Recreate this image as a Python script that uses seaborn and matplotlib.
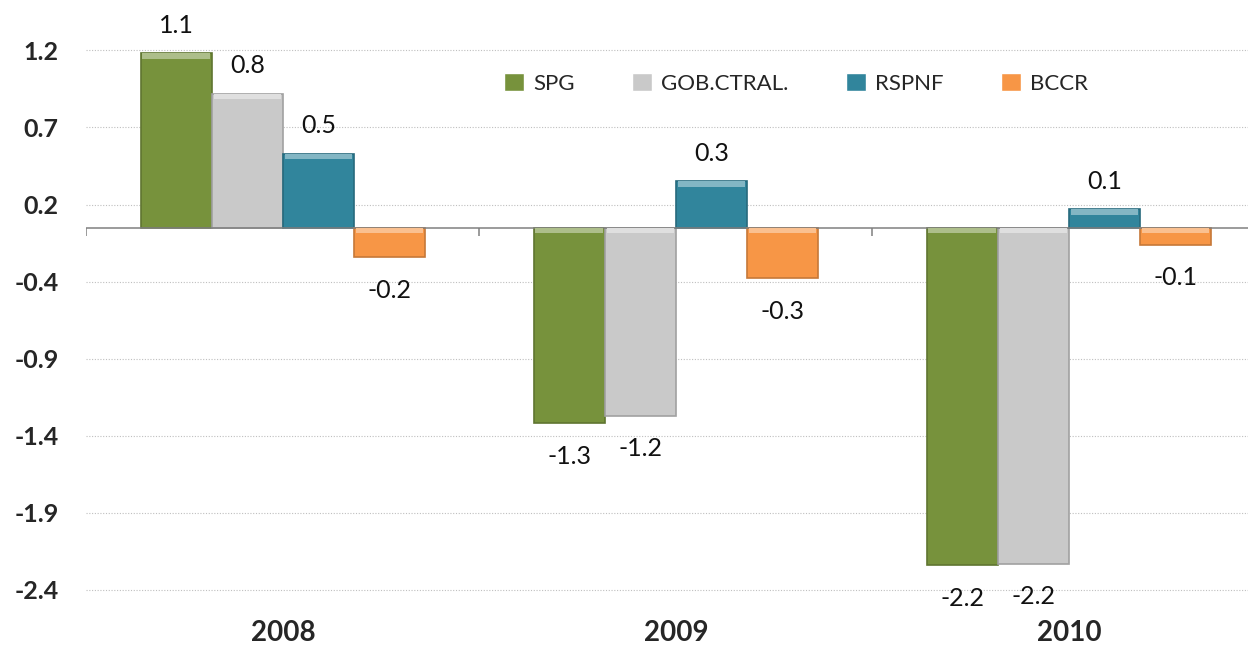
import numpy as np
import pandas as pd
import matplotlib.pyplot as plt
import matplotlib.colors as mcolors
from matplotlib.patches import Rectangle
import seaborn as sns

# data
years = ['2008', '2009', '2010']
series = ['SPG', 'GOB.CTRAL.', 'RSPNF', 'BCCR']
spg = [1.13, -1.27, -2.19]
gob = [0.87, -1.22, -2.18]
rspnf = [0.48, 0.30, 0.12]
bccr = [-0.19, -0.33, -0.11]
labels_spg = ['1.1', '-1.3', '-2.2']
labels_gob = ['0.8', '-1.2', '-2.2']
labels_rspnf = ['0.5', '0.3', '0.1']
labels_bccr = ['-0.2', '-0.3', '-0.1']
yticks = [1.15, 0.65, 0.15, -0.35, -0.85, -1.35, -1.85, -2.35]
ytick_labels = ['1.2', '0.7', '0.2', '-0.4', '-0.9', '-1.4', '-1.9', '-2.4']

colors = ['#77923C', '#C9C9C9', '#31859C', '#F79646']

df = pd.DataFrame({
    'year': years * 4,
    'serie': np.repeat(series, 3),
    'value': spg + gob + rspnf + bccr,
    'label': labels_spg + labels_gob + labels_rspnf + labels_bccr,
})

sns.set_style('white')
plt.rcParams['font.family'] = ['Lato', 'DejaVu Sans']

fig = plt.figure(figsize=(12.48, 6.56), dpi=100)
ax = fig.add_axes([0.0693, 0.068, 0.9447, 0.932])

sns.barplot(data=df, x='year', y='value', hue='serie', palette=colors,
            width=0.725, gap=0, saturation=1, ax=ax, legend=True)

# bevel-ish look: darker edge and a lighter strip along the top edge
bars = list(ax.patches)[:len(df)]
for p in bars:
    base = mcolors.to_rgb(p.get_facecolor())
    dark = tuple(c * 0.8 for c in base)
    light = tuple(min(1, c + (1 - c) * 0.4) for c in base)
    p.set_edgecolor(dark)
    p.set_linewidth(1.2)
    x, w = p.get_x(), p.get_width()
    y0, h = p.get_y(), p.get_height()
    top = max(y0, y0 + h)
    strip = min(0.035, abs(h) * 0.45)
    ax.add_patch(Rectangle((x + 0.005, top - strip), w - 0.01, strip,
                           facecolor=light, edgecolor='none', zorder=p.get_zorder() + 0.1))

# data labels
for p, (_, row) in zip(bars, df.iterrows()):
    xc = p.get_x() + p.get_width() / 2
    off = 20 if row['value'] >= 0 else -24
    ax.annotate(row['label'], (xc, row['value']), xytext=(0, off),
                textcoords='offset points', ha='center', va='center',
                fontsize=18, color='#111111')

ax.set_ylim(-2.49, 1.477)
ax.set_xlim(-0.5, 2.5)
ax.set_yticks(yticks)
ax.set_yticklabels(ytick_labels, fontsize=18, fontweight='bold')
ax.tick_params(axis='y', length=0, pad=20)
ax.tick_params(axis='x', length=0, pad=6, labelsize=20)
for lab in ax.get_xticklabels():
    lab.set_fontweight('bold')
ax.yaxis.grid(True, linestyle=(0, (1, 1.5)), color='#BFBFBF', linewidth=0.8)
ax.set_axisbelow(True)
for s in ax.spines.values():
    s.set_visible(False)

ax.axhline(0, color='#808080', linewidth=1.1, zorder=1)
ax.vlines([-0.5, 0.5, 1.5, 2.5], -0.055, 0, color='#808080', linewidth=1.1)
ax.set_xlabel('')
ax.set_ylabel('')

leg = ax.legend(loc='center', bbox_to_anchor=(0.638, 0.873), bbox_transform=fig.transFigure,
                ncol=4, frameon=False, fontsize=16, handlelength=0.9, handleheight=0.9,
                handletextpad=0.4, columnspacing=2.6)

fig.savefig('out.png', dpi=100)
